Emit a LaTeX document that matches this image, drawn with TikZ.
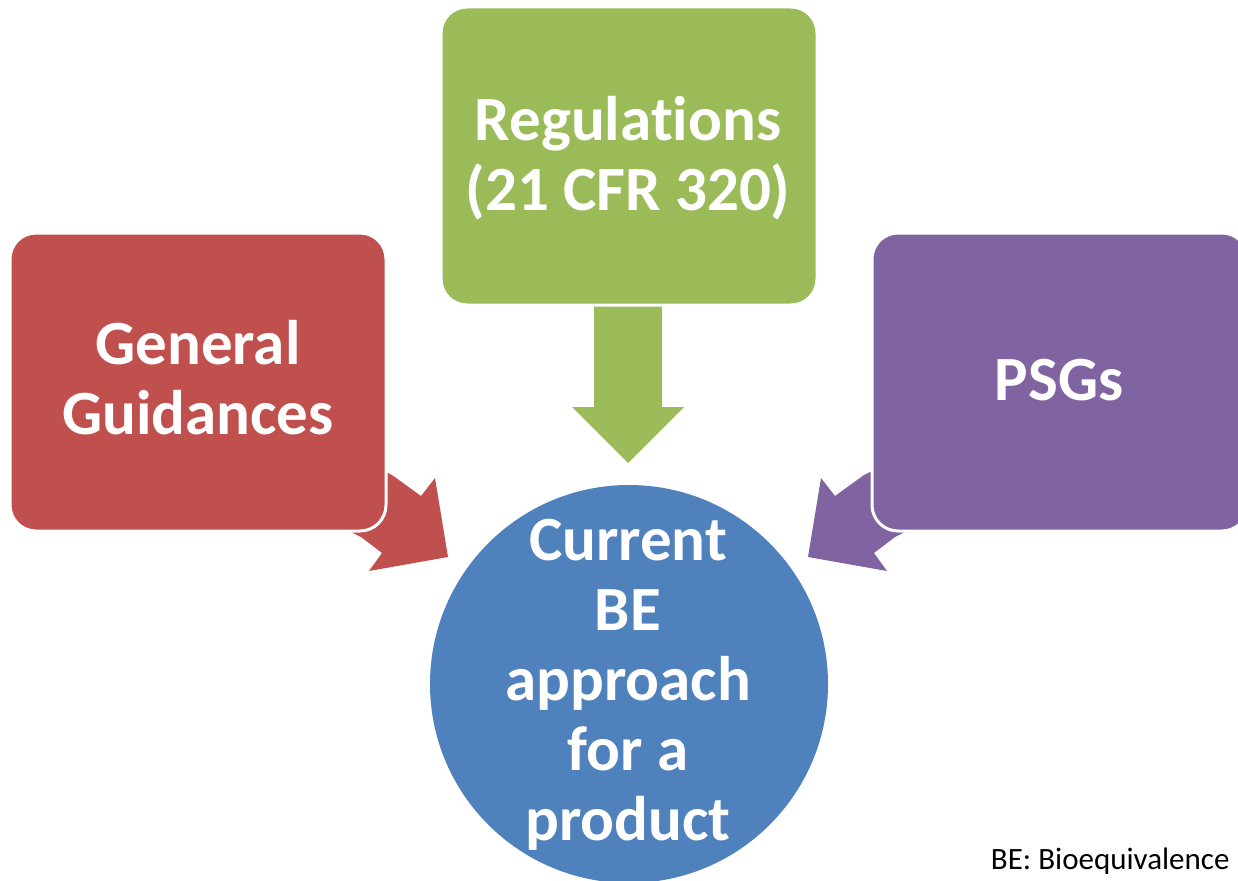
\documentclass[tikz,border=0pt]{standalone}
\usepackage{fontspec}
\setmainfont[Ligatures=NoCommon]{Carlito}
\definecolor{cred}{HTML}{C0504D}
\definecolor{cgreen}{HTML}{9BBB59}
\definecolor{cpurple}{HTML}{8064A2}
\definecolor{cblue}{HTML}{4F81BD}
\tikzset{
  boxst/.style={draw=white, line width=3pt, rounded corners=26pt},
  bigtext/.style={text=white, font=\bfseries\fontsize{63}{70}\selectfont, align=center},
}
\begin{document}
\begin{tikzpicture}[x=1pt,y=-1pt]
\useasboundingbox (0,0) rectangle (1238,880);
\clip (0,0) rectangle (1238,880);
% arrows
\fill[cgreen] (594,290) -- (662,290) -- (662,407) -- (684,407) -- (628,463) -- (572,407) -- (594,407) -- cycle;
\fill[cred] (338,448) -- (392,475) -- (421,496) -- (435,478) -- (448,557) -- (369,571) -- (382,553) -- (361,537) -- (307,510) -- cycle;
\fill[cpurple] (918,448) -- (864,475) -- (835,496) -- (821,478) -- (808,557) -- (887,571) -- (874,553) -- (895,537) -- (949,510) -- cycle;
% boxes
\path[boxst, fill=cred] (10,233) rectangle (386,531);
\path[boxst, fill=cgreen] (441,7) rectangle (817,305);
\path[boxst, fill=cpurple] (872,233) rectangle (1248,531);
\node[bigtext] (gen) at (198,378) {General\\Guidances};
\node[bigtext] (reg) at (628,158) {Regulations\\(21 CFR 320)};
\node[bigtext] (psg) at (1059,380) {PSGs};
% circle
\fill[cblue] (629,684) circle (199);
\node[bigtext] (cur) at (628,685) {Current\\BE\\approach\\for a\\product};
\node[anchor=base east, font=\fontsize{31}{34}\selectfont] (be) at (1233,869) {BE: Bioequivalence};
\end{tikzpicture}
\end{document}
